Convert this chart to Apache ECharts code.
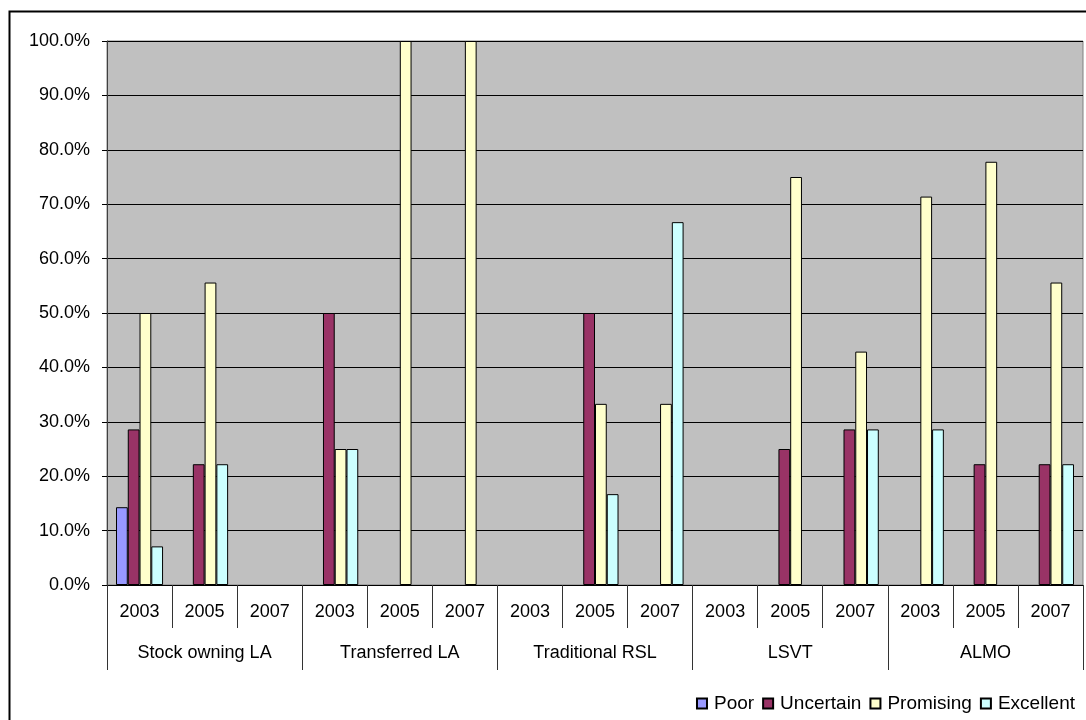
<!DOCTYPE html>
<html>
<head>
<meta charset="utf-8">
<script src="https://cdn.jsdelivr.net/npm/echarts@6/dist/echarts.min.js"></script>
<style>
  html, body { margin: 0; padding: 0; background: #fff; }
  #chart { width: 1086px; height: 720px; }
</style>
</head>
<body>
<div id="chart"></div>
<script>
// Organisation types and survey years (two-level category axis)
const groups = ['Stock owning LA', 'Transferred LA', 'Traditional RSL', 'LSVT', 'ALMO'];
const years = ['2003', '2005', '2007'];

// Share of respondents (%) per rating, 15 values: 3 years for each organisation type
const poor      = [14.3, 0, 0,   0, 0, 0,     0, 0, 0,       0, 0, 0,       0, 0, 0];
const uncertain = [28.6, 22.2, 0, 50, 0, 0,   0, 50, 0,      0, 25, 28.6,   0, 22.2, 22.2];
const promising = [50, 55.6, 0,  25, 100, 100, 0, 33.3, 33.3, 0, 75, 42.9,  71.4, 77.8, 55.6];
const excellent = [7.1, 22.2, 0, 25, 0, 0,    0, 16.7, 66.7, 0, 0, 28.6,    28.6, 0, 22.2];

const seriesNames = ['Poor', 'Uncertain', 'Promising', 'Excellent'];
const seriesColors = ['#9999FF', '#993366', '#FFFFCC', '#CCFFFF'];
const seriesData = [poor, uncertain, promising, excellent];

// Year labels repeated under every organisation type
const yearCats = [];
groups.forEach(() => years.forEach(y => yearCats.push(y)));

const FONT = "'Liberation Sans', Arial, sans-serif";

const chart = echarts.init(document.getElementById('chart'), null, { renderer: 'canvas' });

chart.setOption({
  animation: false,
  backgroundColor: '#ffffff',
  textStyle: { fontFamily: FONT, color: '#000' },
  graphic: [{
    type: 'rect',
    left: 7, top: 9,
    shape: { width: 1200, height: 800 },
    style: { fill: 'none', stroke: '#000', lineWidth: 2 },
    z: -10,
    silent: true
  }],
  legend: {
    data: seriesNames,
    right: 6,
    top: 689,
    itemWidth: 10,
    itemHeight: 10,
    itemGap: 8,
    icon: 'rect',
    textStyle: { fontFamily: FONT, fontSize: 19, color: '#000', padding: [0, 0, 0, 2] }
  },
  grid: {
    left: 107, right: 3, top: 41, bottom: 135,
    show: true,
    backgroundColor: '#C0C0C0',
    borderColor: '#808080',
    borderWidth: 1
  },
  xAxis: [{
    type: 'category',
    data: yearCats,
    boundaryGap: true,
    axisLine: { show: true, lineStyle: { color: '#000', width: 1 } },
    axisTick: { show: true, interval: 0, length: 43, lineStyle: { color: '#333' } },
    axisLabel: { interval: 0, margin: 18, fontSize: 18, color: '#000', fontFamily: FONT },
    splitLine: { show: false }
  }, {
    type: 'category',
    data: groups,
    position: 'bottom',
    boundaryGap: true,
    axisLine: { show: false },
    axisTick: { show: true, interval: 0, length: 85, lineStyle: { color: '#333' } },
    axisLabel: { interval: 0, margin: 59, fontSize: 18, color: '#000', fontFamily: FONT },
    splitLine: { show: false }
  }],
  yAxis: {
    type: 'value',
    min: 0, max: 100, interval: 10,
    axisLine: { show: true, lineStyle: { color: '#404040' } },
    axisTick: { show: true, length: 5, lineStyle: { color: '#000' } },
    axisLabel: {
      margin: 17, fontSize: 18, color: '#000', fontFamily: FONT,
      formatter: v => v.toFixed(1) + '%'
    },
    splitLine: { show: true, lineStyle: { color: '#000', width: 1 } }
  },
  series: seriesNames.map((name, i) => ({
    name: name,
    type: 'bar',
    xAxisIndex: 0,
    data: seriesData[i].map(v => (v === 0 ? '-' : v)),
    barGap: '0%',
    barCategoryGap: '27.7%',
    itemStyle: { color: seriesColors[i], borderColor: '#000', borderWidth: 1 }
  }))
});
</script>
</body>
</html>
